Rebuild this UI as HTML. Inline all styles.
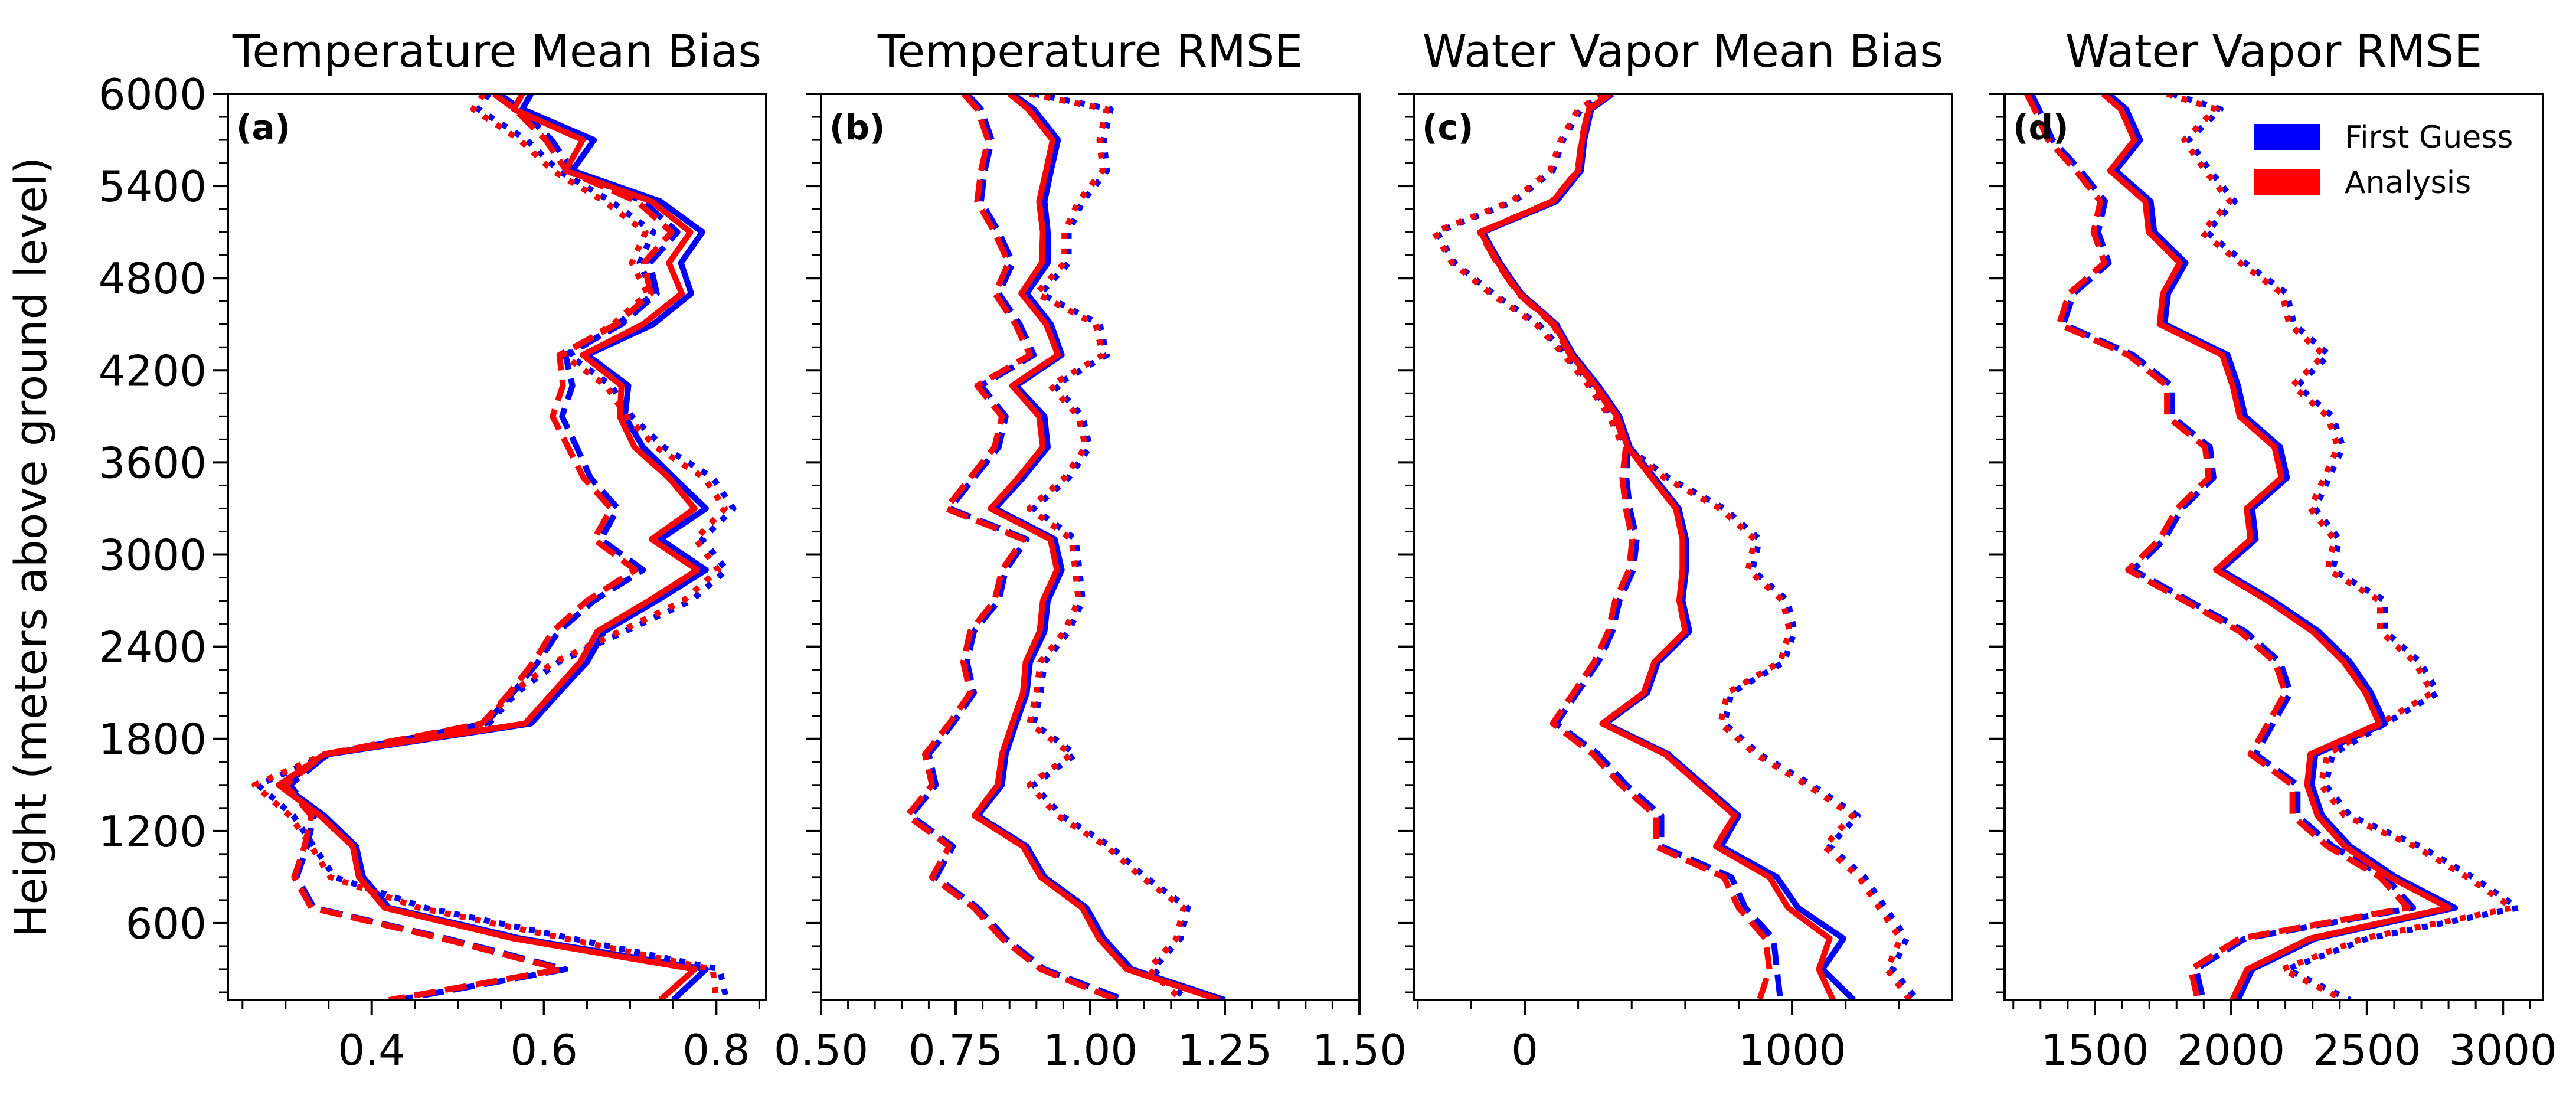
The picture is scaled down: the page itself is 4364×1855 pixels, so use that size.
<!DOCTYPE html>
<html><head><meta charset="utf-8">
<style>
html,body{margin:0;padding:0;background:#fff;}
svg{display:block;}
text{font-family:"DejaVu Sans","Liberation Sans",sans-serif;fill:#000;}
</style></head>
<body>
<svg id="chart" xmlns="http://www.w3.org/2000/svg" width="4364" height="1855" viewBox="0 0 4364 1855">
<rect x="0" y="0" width="4364" height="1855" fill="#fff"/>
<g id="content"></g>
</svg>
<script>
const heights=[6000,5900,5700,5500,5300,5100,4900,4700,4500,4300,4100,3900,3700,3500,3300,3100,2900,2700,2500,2300,2100,1900,1700,1500,1300,1100,900,700,500,300,100];

const aFgSolid=[0.585,0.575,0.658,0.633,0.735,0.784,0.759,0.771,0.727,0.650,0.698,0.694,0.715,0.751,0.788,0.735,0.788,0.731,0.670,0.650,0.617,0.585,0.350,0.296,0.345,0.382,0.390,0.420,0.573,0.788,0.750];
const aAnSolid=[0.575,0.565,0.645,0.625,0.725,0.770,0.745,0.760,0.715,0.645,0.690,0.688,0.705,0.745,0.775,0.725,0.778,0.722,0.662,0.642,0.610,0.578,0.345,0.292,0.340,0.378,0.385,0.415,0.565,0.775,0.735];
const aFgDash=[0.548,0.573,0.609,0.633,0.715,0.755,0.723,0.731,0.690,0.625,0.633,0.621,0.638,0.654,0.686,0.666,0.715,0.658,0.617,0.593,0.564,0.532,0.349,0.305,0.333,0.325,0.313,0.333,0.487,0.625,0.430];
const aAnDash=[0.542,0.566,0.602,0.626,0.708,0.748,0.716,0.724,0.684,0.618,0.622,0.610,0.628,0.646,0.678,0.658,0.706,0.650,0.610,0.588,0.560,0.528,0.345,0.300,0.330,0.322,0.310,0.330,0.482,0.620,0.420];
const aFgDot=[0.536,0.524,0.580,0.617,0.678,0.727,0.711,0.727,0.686,0.629,0.678,0.702,0.739,0.796,0.820,0.784,0.812,0.771,0.694,0.617,0.568,0.536,0.349,0.268,0.309,0.333,0.357,0.463,0.633,0.804,0.812];
const aAnDot=[0.530,0.518,0.572,0.610,0.670,0.718,0.702,0.720,0.680,0.622,0.672,0.696,0.730,0.786,0.810,0.776,0.802,0.762,0.688,0.612,0.562,0.530,0.345,0.264,0.305,0.330,0.352,0.455,0.625,0.796,0.800];

const bFgSolid=[0.856,0.895,0.940,0.927,0.915,0.921,0.921,0.882,0.927,0.947,0.862,0.915,0.921,0.875,0.823,0.934,0.947,0.921,0.915,0.888,0.882,0.862,0.843,0.836,0.791,0.882,0.915,0.993,1.025,1.077,1.250];
const bAnSolid=[0.850,0.885,0.930,0.918,0.905,0.912,0.910,0.872,0.918,0.940,0.855,0.905,0.912,0.866,0.815,0.926,0.938,0.912,0.906,0.880,0.875,0.855,0.836,0.828,0.785,0.875,0.908,0.985,1.016,1.068,1.240];
const bFgDash=[0.771,0.797,0.817,0.804,0.797,0.830,0.856,0.830,0.869,0.895,0.797,0.843,0.830,0.784,0.739,0.882,0.843,0.830,0.784,0.771,0.784,0.745,0.700,0.713,0.667,0.745,0.713,0.791,0.843,0.915,1.064];
const bAnDash=[0.765,0.790,0.810,0.797,0.790,0.822,0.848,0.823,0.861,0.888,0.790,0.836,0.822,0.777,0.732,0.875,0.836,0.822,0.777,0.764,0.777,0.738,0.693,0.706,0.660,0.738,0.706,0.784,0.836,0.908,1.050];
const bFgDot=[0.895,1.038,1.025,1.031,0.986,0.960,0.960,0.908,1.018,1.031,0.934,0.986,0.999,0.960,0.895,0.973,0.980,0.986,0.960,0.915,0.908,0.895,0.973,0.895,0.947,1.038,1.103,1.181,1.168,1.116,1.180];
const bAnDot=[0.887,1.030,1.017,1.023,0.978,0.952,0.952,0.900,1.010,1.023,0.926,0.978,0.991,0.952,0.887,0.965,0.972,0.978,0.952,0.907,0.900,0.887,0.965,0.887,0.939,1.030,1.095,1.173,1.160,1.108,1.170];

const cFgSolid=[328,249,223,210,118,-157,-92,-13,118,183,275,354,393,485,576,603,603,590,616,498,458,301,537,668,799,734,943,1022,1192,1113,1231];
const cAnSolid=[320,240,215,200,105,-165,-100,-20,110,175,265,345,385,475,565,590,590,578,600,485,445,290,525,655,785,715,915,985,1140,1100,1153];
const cFgDash=[325,245,220,205,112,-160,-96,-18,112,178,268,346,385,380,393,419,406,354,328,275,196,118,275,380,511,511,773,825,930,943,956];
const cAnDash=[318,238,212,198,102,-168,-104,-25,105,170,260,338,378,365,378,402,390,338,312,260,182,105,255,360,490,490,745,800,900,915,878];
const cFgDot=[301,210,144,105,-39,-328,-262,-118,52,157,249,328,380,537,747,878,852,983,1009,970,773,747,878,1074,1245,1140,1271,1349,1428,1376,1467];
const cAnDot=[292,200,135,95,-50,-338,-272,-128,42,147,238,316,368,522,730,860,835,965,990,955,758,732,862,1055,1225,1120,1250,1325,1405,1355,1440];

const dFgSolid=[1550,1615,1666,1576,1705,1718,1833,1769,1756,1988,2026,2052,2181,2206,2078,2091,1962,2155,2322,2438,2515,2567,2310,2297,2335,2438,2606,2824,2310,2078,2026];
const dAnSolid=[1530,1595,1645,1556,1685,1698,1812,1750,1738,1968,2006,2032,2160,2186,2058,2072,1945,2135,2300,2415,2495,2545,2292,2280,2318,2418,2585,2800,2290,2060,2005];
const dFgDash=[1267,1294,1344,1447,1537,1512,1551,1422,1384,1640,1782,1782,1923,1936,1820,1756,1640,1846,2052,2181,2219,2155,2091,2245,2245,2374,2567,2670,2052,1872,1898];
const dAnDash=[1250,1278,1328,1430,1520,1495,1535,1405,1368,1622,1765,1765,1905,1918,1802,1738,1622,1828,2032,2162,2200,2136,2072,2226,2226,2355,2548,2650,2032,1852,1878];
const dFgDot=[1782,1962,1846,1923,2014,1911,2052,2206,2232,2361,2245,2374,2412,2361,2310,2399,2374,2567,2567,2696,2760,2567,2374,2348,2438,2696,2889,3056,2503,2206,2438];
const dAnDot=[1765,1945,1828,1905,1996,1893,2034,2188,2214,2342,2226,2355,2393,2342,2292,2380,2355,2548,2548,2676,2740,2548,2355,2330,2418,2676,2868,3035,2484,2188,2418];

const titles=["Temperature Mean Bias","Temperature RMSE","Water Vapor Mean Bias","Water Vapor RMSE"];
const panelTags=["(a)","(b)","(c)","(d)"];
const aMajor=[0.4,0.6,0.8], aLabels=["0.4","0.6","0.8"];
const bMajor=[0.5,0.75,1.0,1.25,1.5], bLabels=["0.50","0.75","1.00","1.25","1.50"];
const cMajor=[0,1000], cLabels=["0","1000"];
const dMajor=[1500,2000,2500,3000], dLabels=["1500","2000","2500","3000"];
const yMajor=[600,1200,1800,2400,3000,3600,4200,4800,5400,6000];
const yLabels=["600","1200","1800","2400","3000","3600","4200","4800","5400","6000"];

const NS="http://www.w3.org/2000/svg";
const root=document.getElementById('content');
function mk(tag,attrs,parent){const e=document.createElementNS(NS,tag);for(const k in attrs)e.setAttribute(k,attrs[k]);(parent||root).appendChild(e);return e;}

const TOP=159,BOT=1694,W=912;
const lefts=[386,1391,2395,3396];
const yMin=100,yMax=6000;
function yS(h){return TOP+(yMax-h)/(yMax-yMin)*(BOT-TOP);}

const panels=[
 {dom:[0.233,0.858],major:aMajor,labels:aLabels,minorStart:0.25,minorEnd:0.85,minorStep:0.05,
  series:[[aFgSolid,'blue','solid'],[aFgDash,'blue','dash'],[aFgDot,'blue','dot'],[aAnSolid,'red','solid'],[aAnDash,'red','dash'],[aAnDot,'red','dot']]},
 {dom:[0.5,1.5],major:bMajor,labels:bLabels,minorStart:0.5,minorEnd:1.5,minorStep:0.05,
  series:[[bFgSolid,'blue','solid'],[bFgDash,'blue','dash'],[bFgDot,'blue','dot'],[bAnSolid,'red','solid'],[bAnDash,'red','dash'],[bAnDot,'red','dot']]},
 {dom:[-415,1598],major:cMajor,labels:cLabels,minorStart:-400,minorEnd:1400,minorStep:200,
  series:[[cFgSolid,'blue','solid'],[cFgDash,'blue','dash'],[cFgDot,'blue','dot'],[cAnSolid,'red','solid'],[cAnDash,'red','dash'],[cAnDot,'red','dot']]},
 {dom:[1168,3147],major:dMajor,labels:dLabels,minorStart:1200,minorEnd:3100,minorStep:100,
  series:[[dFgSolid,'blue','solid'],[dFgDash,'blue','dash'],[dFgDot,'blue','dot'],[dAnSolid,'red','solid'],[dAnDash,'red','dash'],[dAnDot,'red','dot']]}
];
const names=['temp-mean-bias','temp-rmse','wv-mean-bias','wv-rmse'];

panels.forEach((p,i)=>{
  const L=lefts[i];
  const xS=v=>L+(v-p.dom[0])/(p.dom[1]-p.dom[0])*W;
  const g=mk('g',{});
  
  
  const clipId='clip'+i;
  const cp=mk('clipPath',{id:clipId},g);
  mk('rect',{x:L,y:TOP,width:W,height:BOT-TOP},cp);
  const lines=mk('g',{'clip-path':'url(#'+clipId+')'},g);
  p.series.forEach(s=>{
    const vals=s[0];
    const d=vals.map((v,k)=>(k?'L':'M')+xS(v).toFixed(1)+','+yS(heights[k]).toFixed(1)).join(' ');
    const attrs={d:d,fill:'none',stroke:s[1],'stroke-width':10,'stroke-linejoin':'round'};
    if(s[2]==='dash'){attrs['stroke-dasharray']='37,16';}
    if(s[2]==='dot'){attrs['stroke-dasharray']='10,16';}
    const path=mk('path',attrs,lines);
    
    
  });
  const fr=mk('rect',{x:L,y:TOP,width:W,height:BOT-TOP,fill:'none',stroke:'#000','stroke-width':4},g);
  
  
  for(let v=p.minorStart;v<=p.minorEnd+1e-9;v+=p.minorStep){
    const x=xS(v); if(x<L-1||x>L+W+1) continue;
    mk('line',{x1:x,y1:BOT,x2:x,y2:BOT+15,stroke:'#000','stroke-width':3},g);
  }
  p.major.forEach((v,k)=>{
    const x=xS(v);
    mk('line',{x1:x,y1:BOT,x2:x,y2:BOT+26,stroke:'#000','stroke-width':4},g);
    const t=mk('text',{x:x,y:1804,'font-size':72,'text-anchor':'middle'},g);
    t.textContent=p.labels[k];
    
    
  });
  for(let h=150;h<=6000;h+=150){
    mk('line',{x1:L,y1:yS(h),x2:L-15,y2:yS(h),stroke:'#000','stroke-width':3},g);
  }
  yMajor.forEach((h,k)=>{
    mk('line',{x1:L,y1:yS(h),x2:L-26,y2:yS(h),stroke:'#000','stroke-width':4},g);
    if(i===0){
      const t=mk('text',{x:L-36,y:yS(h)+26,'font-size':72,'text-anchor':'end'},g);
      t.textContent=yLabels[k];
      
      
    }
  });
  const tt=mk('text',{x:L+W/2,y:113,'font-size':76,'text-anchor':'middle'},g);
  tt.textContent=titles[i];
  
  
  const tg=mk('text',{x:L+14,y:236,'font-size':58,'font-weight':'bold'},g);
  tg.textContent=panelTags[i];
  
  
});

const yt=mk('text',{x:0,y:0,'font-size':74,'text-anchor':'middle',transform:'translate(78,927) rotate(-90)'});
yt.textContent='Height (meters above ground level)';



const lg=mk('g',{});


const legendItems=[['First Guess','blue',210],['Analysis','red',287]];
legendItems.forEach(it=>{
  const y=+it[2];
  const r=mk('rect',{x:3818,y:y,width:113,height:44,fill:it[1]},lg);
  
  
  const t=mk('text',{x:3972,y:y+40,'font-size':52},lg);
  t.textContent=it[0];
  
  
});
</script>
</body></html>
